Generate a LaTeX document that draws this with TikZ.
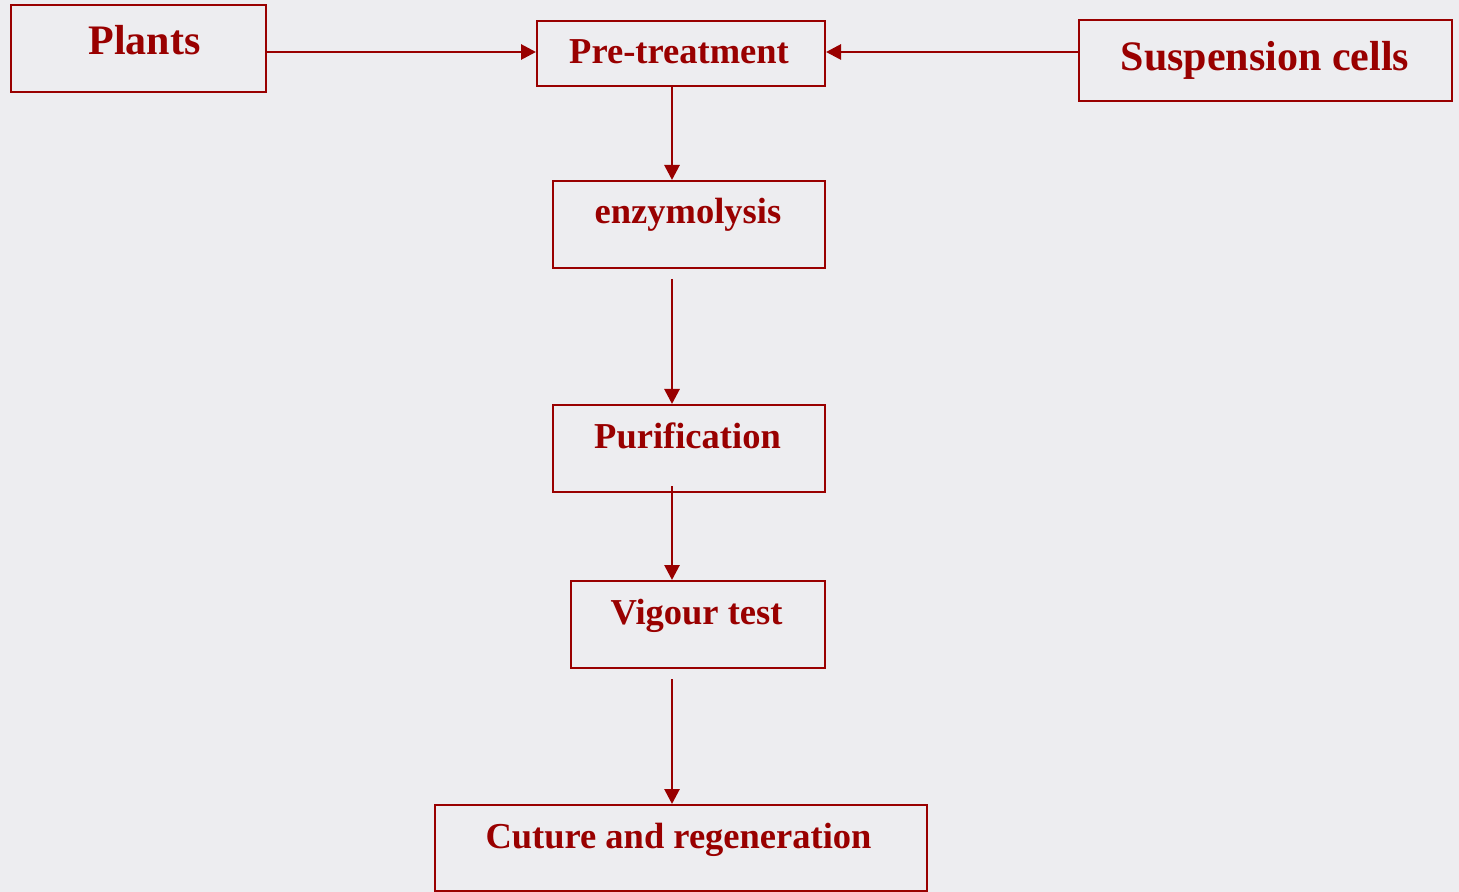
\documentclass[tikz,border=0pt]{standalone}
\usepackage{fontspec}
\setmainfont{Liberation Serif}
\usetikzlibrary{arrows.meta}
\definecolor{dred}{HTML}{990000}
\definecolor{bgc}{HTML}{EDEDF0}
\tikzset{
  box/.style={draw=dred, line width=1pt, inner sep=0pt},
  lbl/.style={text=dred, font=\bfseries\fontsize{18.25pt}{20pt}\selectfont, anchor=base, inner sep=0pt},
  biglbl/.style={lbl, font=\bfseries\fontsize{21pt}{23pt}\selectfont},
  arr/.style={draw=dred, line width=1.4pt, -{Triangle[length=7.5pt,width=7.5pt]}}
}
\begin{document}
\begin{tikzpicture}[x=0.5pt,y=-0.5pt]
\fill[bgc] (0,0) rectangle (1459,892);
\useasboundingbox (0,0) rectangle (1459,892);
% boxes
\node[box, minimum width=127.5pt, minimum height=43.5pt] (plants) at (138.5,48.5) {};
\node[box, minimum width=144pt, minimum height=32.5pt] (pre) at (681,53.5) {};
\node[box, minimum width=186.5pt, minimum height=40.5pt] (susp) at (1265.5,60.5) {};
\node[box, minimum width=136pt, minimum height=43.5pt] (enz) at (689,224.5) {};
\node[box, minimum width=136pt, minimum height=43.5pt] (pur) at (689,448.5) {};
\node[box, minimum width=127pt, minimum height=43.5pt] (vig) at (698,624.5) {};
\node[box, minimum width=246pt, minimum height=43pt] (cut) at (681,848) {};
% labels
\node[biglbl] (tplants) at (144.5,55) {Plants};
\node[lbl] (tpre) at (679,64) {Pre-treatment};
\node[biglbl] (tsusp) at (1265,71) {Suspension cells};
\node[lbl] (tenz) at (688,224) {enzymolysis};
\node[lbl] (tpur) at (687.5,448) {Purification};
\node[lbl] (tvig) at (696.5,624) {Vigour test};
\node[lbl] (tcut) at (678.5,848) {Cuture and regeneration};
% connectors
\draw[arr] (plants.east |- 0,52) -- (pre.west |- 0,52);
\draw[arr] (susp.west |- 0,52) -- (pre.east |- 0,52);
\draw[arr] (pre.south -| 672,0) -- (enz.north -| 672,0);
\draw[arr, shorten <=5pt] (enz.south -| 672,0) -- (pur.north -| 672,0);
\draw[arr, shorten <=-3.5pt] (pur.south -| 672,0) -- (vig.north -| 672,0);
\draw[arr, shorten <=5pt] (vig.south -| 672,0) -- (cut.north -| 672,0);
\end{tikzpicture}
\end{document}
